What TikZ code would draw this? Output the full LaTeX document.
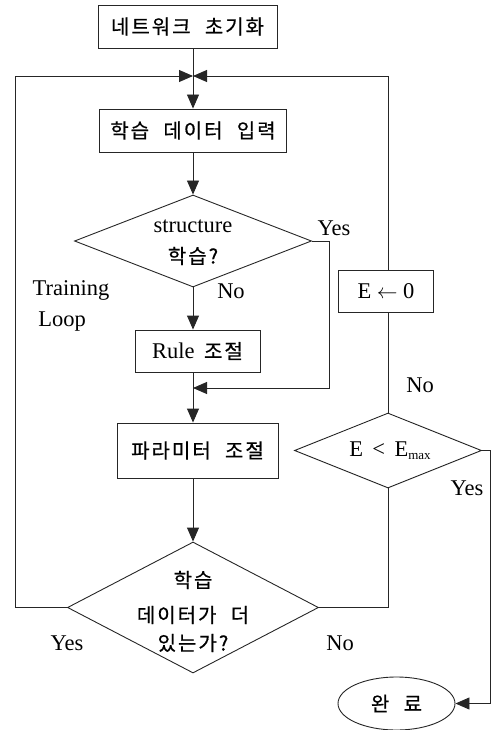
\documentclass[tikz,border=0pt]{standalone}
\usepackage{fontspec}
\setmainfont{Liberation Serif}
\newfontfamily\kr[LetterSpace=10,WordSpace=2.2,FakeBold=0.6]{Noto Sans CJK KR}
\newcommand{\krt}{\kr\fontsize{20}{24}\selectfont}
\usetikzlibrary{shapes.geometric,arrows.meta}
\begin{document}
\begin{tikzpicture}[x=1pt,y=-1pt,
  every node/.style={font=\fontsize{22.5}{26}\selectfont},
  kf/.style={font=\krt},
  ln/.style={line width=0.9pt,draw=black!85},
  arr/.style={ln,-{Triangle[length=14pt,width=12pt]}},
  boxn/.style={ln,draw,rectangle,inner sep=0pt},
  dia/.style={ln,draw,diamond,inner sep=0pt},
  lbl/.style={inner sep=0pt}]
\useasboundingbox (0,0) rectangle (502,730);
\coordinate (ax) at (193,0);
\coordinate (jtop) at (193,76);
\coordinate (jmid) at (193,388);
% boxes
\node[boxn,kf,minimum width=179pt,minimum height=43pt] (b1) at (187.5,26.5) {네트워크 초기화};
\node[boxn,kf,minimum width=187pt,minimum height=43pt] (b2) at (193,130.5) {학습 데이터 입력};
\node[dia,minimum width=237pt,minimum height=92pt] (d1) at (193,241) {};
\node[lbl] (t1a) at (193,226) {structure};
\node[lbl,kf] (t1b) at (193,256) {학습?};
\node[boxn,minimum width=125pt,minimum height=42pt] (b3) at (197.5,351) {Rule\, {\krt 조절}};
\node[boxn,kf,minimum width=161pt,minimum height=55pt] (b4) at (197.5,450.5) {파라미터 조절};
\node[dia,minimum width=251pt,minimum height=131pt] (d2) at (193,607.5) {};
\node[lbl,kf] (t2a) at (193,580) {학습};
\node[lbl,kf] (t2b) at (193,615) {데이터가 더};
\node[lbl,kf] (t2c) at (193,643) {있는가?};
\node[boxn,minimum width=95pt,minimum height=42pt] (b5) at (386,291) {E $\leftarrow$ 0};
\node[dia,minimum width=187pt,minimum height=75pt] (d3) at (388,450.5) {};
\node[lbl] (t3) at (390,451) {E \,<\, E\raisebox{-3pt}{\fontsize{13}{13}\selectfont max}};
\node[ln,draw,ellipse,kf,minimum width=117pt,minimum height=53pt,inner sep=0pt] (e1) at (396.5,703.5) {완 료};
% labels
\node[lbl] (yes1) at (334,228) {Yes};
\node[lbl] (no1) at (231,291) {No};
\node[lbl] (tr) at (71,290) {Training};
\node[lbl] (lp) at (62,322) {Loop};
\node[lbl] (no2) at (420,385) {No};
\node[lbl] (yes3) at (467,488) {Yes};
\node[lbl] (yes2) at (67,643) {Yes};
\node[lbl] (no3) at (340,643) {No};
% connectors
\draw[ln] (b1.south -| ax) -- (jtop);
\draw[arr] (jtop) -- (b2.north);
\draw[arr] (b2.south) -- (d1.north);
\draw[arr] (d1.south) -- (b3.north -| ax);
\draw[ln] (b3.south -| ax) -- (jmid);
\draw[arr] (jmid) -- (b4.north -| ax);
\draw[arr] (d1.east) -- ++(17,0) |- (jmid);
\draw[arr] (b4.south -| ax) -- (d2.north);
\draw[arr] (d2.west) -- ++(-52,0) |- (jtop);
\draw[ln] (d2.east) -| (d3.south);
\draw[ln] (d3.north) -- (b5.south -| d3.north);
\draw[arr] (b5.north -| d3.north) |- (jtop);
\draw[arr] (d3.east) -- ++(8,0) |- (e1.east);
\end{tikzpicture}
\end{document}
